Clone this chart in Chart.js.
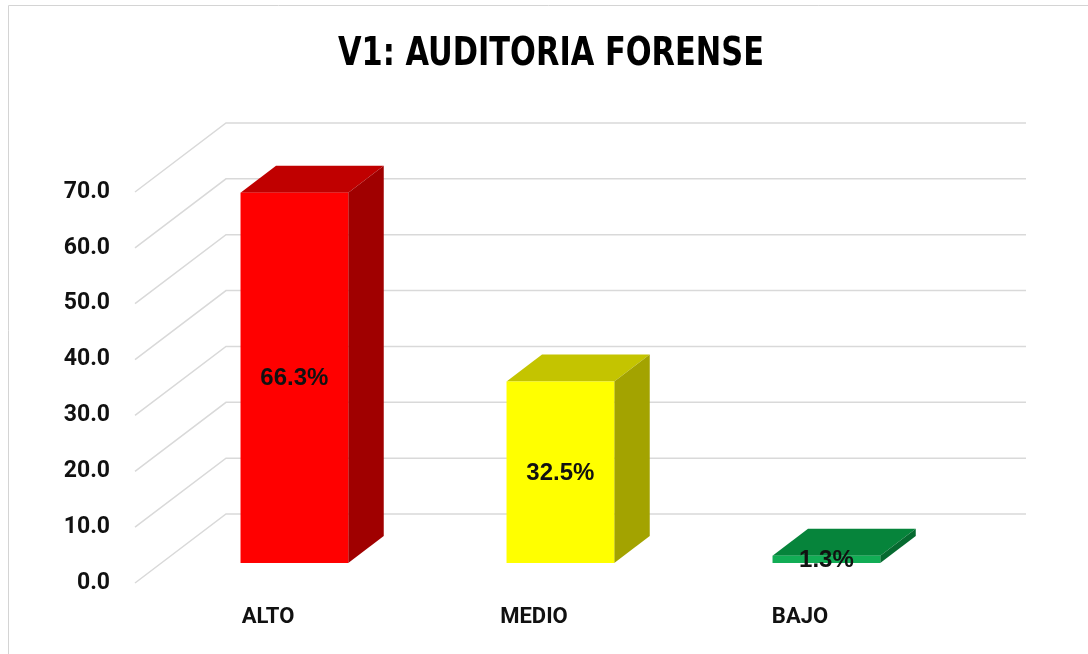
<!DOCTYPE html>
<html>
<head>
<meta charset="utf-8">
<script src="https://cdn.jsdelivr.net/npm/chart.js@4/dist/chart.umd.min.js"></script>
<style>
  html, body { margin: 0; padding: 0; background: #fff; }
  canvas { display: block; }
</style>
</head>
<body>
<canvas id="chart" width="1088" height="654"></canvas>
<script>
const chartTitle = 'V1: AUDITORIA FORENSE';
const categories = ['ALTO', 'MEDIO', 'BAJO'];
const percentValues = [66.3, 32.5, 1.3];
const percentLabels = ['66.3%', '32.5%', '1.3%'];
const yTickValues = [0, 10, 20, 30, 40, 50, 60, 70];

// colours per bar: front, top, side
const frontColors = ['#FF0000', '#FFFF00', '#12AD55'];
const topColors = ['#C00000', '#C4C400', '#06843B'];
const sideColors = ['#A00000', '#A3A300', '#066A30'];

// 3d look: offset of the back wall, and where the bars sit in the depth
const wallDx = 91, wallDy = -69;
const barShift = 0.29, barDepth = 0.39;
const gridColor = '#d9d9d9';

const box3d = {
    id: 'box3d',
    beforeDraw(chart) {
        const ctx = chart.ctx;
        ctx.save();
        ctx.strokeStyle = '#d4d4d4';
        ctx.lineWidth = 1;
        ctx.beginPath();
        ctx.moveTo(8.5, 700);
        ctx.lineTo(8.5, 5.5);
        ctx.lineTo(1100, 5.5);
        ctx.stroke();

        // title, squeezed to look like a narrow font
        ctx.font = 'bold 39px "Liberation Sans Narrow", "DejaVu Sans Condensed", sans-serif';
        const w = ctx.measureText(chartTitle).width;
        const sx = Math.min(1, 426 / w);
        ctx.translate(551, 55);
        ctx.scale(sx, 1);
        ctx.fillStyle = '#000';
        ctx.textAlign = 'center';
        ctx.textBaseline = 'middle';
        ctx.fillText(chartTitle, 0, 0);
        ctx.restore();
    },
    beforeDatasetsDraw(chart) {
        const ctx = chart.ctx;
        const area = chart.chartArea;
        const y = chart.scales.y;
        ctx.save();
        ctx.strokeStyle = gridColor;
        ctx.lineWidth = 1.5;
        yTickValues.forEach(v => {
            const py = y.getPixelForValue(v);
            ctx.beginPath();
            ctx.moveTo(area.left, py);
            ctx.lineTo(area.left + wallDx, py + wallDy);
            ctx.lineTo(area.right + wallDx + 2, py + wallDy);
            ctx.stroke();
        });
        ctx.restore();
    },
    beforeDatasetDraw() {
        return false;
    },
    afterDatasetsDraw(chart) {
        const ctx = chart.ctx;
        const meta = chart.getDatasetMeta(0);
        const ox = barShift * wallDx, oy = barShift * wallDy;
        const bdx = barDepth * wallDx, bdy = barDepth * wallDy;
        ctx.save();
        meta.data.forEach((bar, i) => {
            const p = bar.getProps(['x', 'y', 'base', 'width'], true);
            const x0 = p.x - p.width / 2 + ox;
            const x1 = p.x + p.width / 2 + ox;
            const top = p.y + oy;
            const bot = p.base + oy;

            ctx.fillStyle = topColors[i];
            ctx.beginPath();
            ctx.moveTo(x0, top);
            ctx.lineTo(x1, top);
            ctx.lineTo(x1 + bdx, top + bdy);
            ctx.lineTo(x0 + bdx, top + bdy);
            ctx.closePath();
            ctx.fill();

            ctx.fillStyle = sideColors[i];
            ctx.beginPath();
            ctx.moveTo(x1, top);
            ctx.lineTo(x1 + bdx, top + bdy);
            ctx.lineTo(x1 + bdx, bot + bdy);
            ctx.lineTo(x1, bot);
            ctx.closePath();
            ctx.fill();

            ctx.fillStyle = frontColors[i];
            ctx.fillRect(x0, top, x1 - x0, bot - top);

            ctx.fillStyle = '#111';
            ctx.font = 'bold 24px "Liberation Sans", Arial, sans-serif';
            ctx.textAlign = 'center';
            ctx.textBaseline = 'middle';
            ctx.fillText(percentLabels[i], (x0 + x1) / 2, (top + bot) / 2 + 1);
        });
        ctx.restore();
    }
};

new Chart(document.getElementById('chart'), {
    type: 'bar',
    data: {
        labels: categories,
        datasets: [{
            label: 'V1',
            data: percentValues,
            backgroundColor: frontColors,
            categoryPercentage: 1,
            barPercentage: 0.405
        }]
    },
    options: {
        responsive: false,
        animation: false,
        layout: { padding: { left: 14, right: 155, top: 192, bottom: 0 } },
        scales: {
            x: {
                offset: true,
                grid: { display: false },
                border: { display: false },
                ticks: {
                    color: '#111',
                    padding: 13,
                    font: { family: 'Roboto, "Liberation Sans", sans-serif', size: 22, weight: 'bold' }
                },
                afterFit(scale) { scale.height = 71; }
            },
            y: {
                min: 0,
                max: 70,
                grid: { display: false, drawTicks: false },
                border: { display: false },
                afterBuildTicks(scale) {
                    scale.ticks = yTickValues.map(v => ({ value: v }));
                },
                ticks: {
                    color: '#111',
                    padding: 25,
                    font: { family: 'Roboto, "Liberation Sans", sans-serif', size: 23, weight: 'bold' },
                    callback: v => Number(v).toFixed(1)
                },
                afterFit(scale) { scale.width = 121; }
            }
        },
        plugins: {
            legend: { display: false },
            tooltip: { enabled: false },
            title: { display: false }
        }
    },
    plugins: [box3d]
});
</script>
</body>
</html>
